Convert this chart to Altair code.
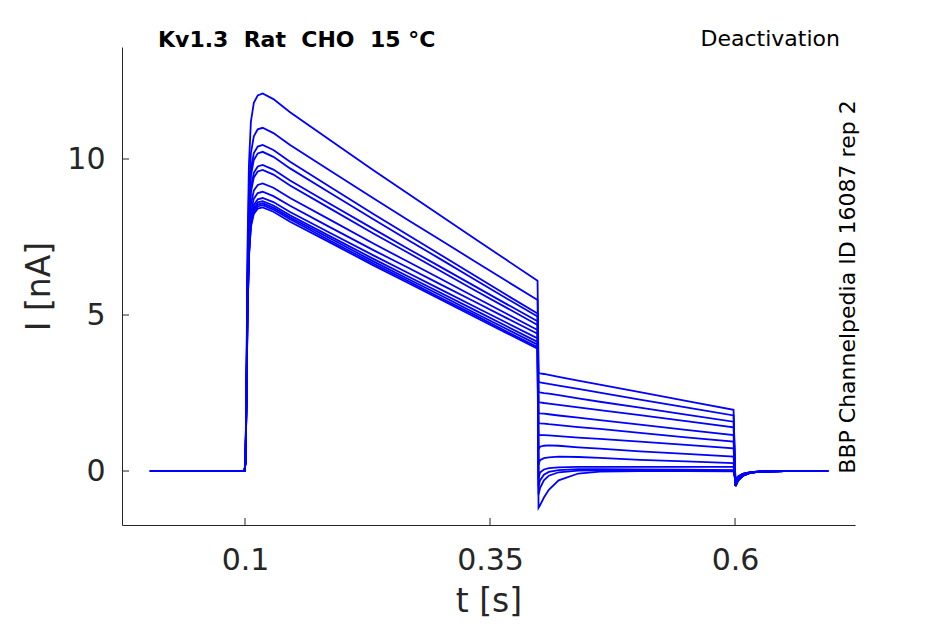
import altair as alt
import pandas as pd

# time grids (s)
t_pre = [0.003, 0.05]
t_act = [0.0995, 0.1005, 0.1015, 0.1025, 0.104, 0.106, 0.109, 0.113, 0.118,
         0.129, 0.146, 0.187, 0.231, 0.265, 0.299, 0.333, 0.367, 0.3985]
t_tail = [0.3995, 0.401, 0.405, 0.41, 0.42, 0.44, 0.462, 0.503, 0.55, 0.5985]
t_post = [0.6005, 0.603, 0.608, 0.615, 0.625, 0.65, 0.695]

# currents (nA), one row per sweep
pre_vals = [[0.0, 0.0]] * 13
act_vals = [
    [0, 0.36, 3.03, 7.02, 9.80, 11.19, 11.80, 12.04, 12.10, 11.92, 11.50, 10.60, 9.64, 8.92, 8.20, 7.48, 6.76, 6.10],
    [0, 0.33, 2.75, 6.38, 8.91, 10.18, 10.73, 10.95, 11.00, 10.83, 10.45, 9.62, 8.74, 8.07, 7.41, 6.75, 6.09, 5.48],
    [0, 0.31, 2.61, 6.06, 8.46, 9.67, 10.19, 10.40, 10.45, 10.29, 9.91, 9.10, 8.24, 7.59, 6.94, 6.29, 5.64, 5.05],
    [0, 0.31, 2.56, 5.93, 8.29, 9.46, 9.97, 10.18, 10.23, 10.07, 9.70, 8.91, 8.07, 7.43, 6.80, 6.16, 5.53, 4.95],
    [0, 0.29, 2.45, 5.69, 7.95, 9.07, 9.56, 9.76, 9.81, 9.66, 9.31, 8.56, 7.76, 7.15, 6.55, 5.95, 5.35, 4.80],
    [0, 0.29, 2.41, 5.60, 7.82, 8.93, 9.41, 9.60, 9.65, 9.50, 9.15, 8.41, 7.61, 7.02, 6.42, 5.82, 5.23, 4.68],
    [0, 0.28, 2.31, 5.35, 7.47, 8.53, 8.99, 9.17, 9.22, 9.08, 8.75, 8.05, 7.29, 6.73, 6.17, 5.60, 5.04, 4.52],
    [0, 0.27, 2.24, 5.19, 7.25, 8.28, 8.73, 8.91, 8.95, 8.81, 8.50, 7.81, 7.08, 6.54, 5.99, 5.45, 4.90, 4.40],
    [0, 0.26, 2.19, 5.08, 7.09, 8.09, 8.53, 8.71, 8.75, 8.62, 8.30, 7.63, 6.91, 6.37, 5.83, 5.29, 4.75, 4.25],
    [0, 0.26, 2.16, 5.02, 7.01, 8.00, 8.43, 8.61, 8.65, 8.51, 8.20, 7.52, 6.80, 6.26, 5.72, 5.18, 4.64, 4.14],
    [0, 0.26, 2.15, 4.98, 6.95, 7.94, 8.37, 8.54, 8.58, 8.44, 8.13, 7.45, 6.72, 6.18, 5.64, 5.09, 4.55, 4.05],
    [0, 0.26, 2.13, 4.94, 6.90, 7.88, 8.31, 8.48, 8.52, 8.38, 8.07, 7.38, 6.65, 6.11, 5.56, 5.02, 4.47, 3.97],
    [0, 0.25, 2.11, 4.90, 6.84, 7.82, 8.24, 8.41, 8.45, 8.31, 7.99, 7.32, 6.59, 6.05, 5.51, 4.96, 4.42, 3.92],
]
tail_vals = [
    [3.15, 3.13, 3.11, 3.08, 3.02, 2.90, 2.77, 2.53, 2.25, 1.96],
    [2.86, 2.84, 2.82, 2.79, 2.74, 2.63, 2.51, 2.29, 2.04, 1.78],
    [2.53, 2.52, 2.50, 2.48, 2.43, 2.33, 2.22, 2.03, 1.81, 1.58],
    [2.21, 2.20, 2.18, 2.16, 2.12, 2.04, 1.95, 1.79, 1.60, 1.40],
    [1.86, 1.85, 1.84, 1.82, 1.78, 1.71, 1.63, 1.49, 1.32, 1.15],
    [1.54, 1.53, 1.52, 1.50, 1.47, 1.41, 1.35, 1.22, 1.08, 0.94],
    [1.15, 1.15, 1.15, 1.14, 1.12, 1.07, 1.03, 0.94, 0.84, 0.73],
    [0.70, 0.78, 0.81, 0.82, 0.81, 0.76, 0.72, 0.63, 0.55, 0.46],
    [0.20, 0.35, 0.41, 0.44, 0.46, 0.45, 0.42, 0.36, 0.31, 0.25],
    [-0.25, -0.05, 0.05, 0.09, 0.12, 0.13, 0.13, 0.13, 0.13, 0.13],
    [-0.50, -0.30, -0.12, -0.03, 0.03, 0.06, 0.06, 0.05, 0.04, 0.03],
    [-0.75, -0.55, -0.30, -0.15, -0.04, 0.01, 0.02, 0.02, 0.02, 0.01],
    [-1.18, -1.10, -0.85, -0.60, -0.30, -0.08, -0.02, 0.0, 0.0, -0.01],
]
post_vals = [[-0.48, -0.30, -0.15, -0.06, -0.02, 0.0, 0.0]] * 9 + \
            [[-0.30, -0.18, -0.09, -0.04, -0.01, 0.0, 0.0]] * 4

x_ticks = [0.1, 0.35, 0.6]
y_ticks = [0, 5, 10]

rows = []
for i in range(13):
    ts = t_pre + t_act + t_tail + t_post
    vs = pre_vals[i] + act_vals[i] + tail_vals[i] + post_vals[i]
    for k, (t, v) in enumerate(zip(ts, vs)):
        rows.append({"trace": i, "t": t, "I": v, "k": k})
df = pd.DataFrame(rows)

W, H = 733, 478
FONT = "DejaVu Sans"
INK = "#262626"

xscale = alt.Scale(domain=[-0.0255, 0.7224], nice=False, zero=False)
yscale = alt.Scale(domain=[-1.73, 13.59], nice=False, zero=False)

lines = alt.Chart(df).mark_line(color="#0000ff", strokeWidth=1.8, clip=True).encode(
    x=alt.X("t:Q", scale=xscale,
            axis=alt.Axis(values=x_ticks, format="~g", title="t [s]", ticks=False, tickSize=0,
                          grid=False, labelPadding=20, titlePadding=10)),
    y=alt.Y("I:Q", scale=yscale,
            axis=alt.Axis(values=y_ticks, format="d", title="I [nA]", ticks=False, tickSize=0,
                          grid=False, labelPadding=17, titlePadding=10)),
    detail="trace:N",
    order="k:Q",
)

xt = alt.Chart(pd.DataFrame({"t": x_ticks})).mark_rule(color=INK, strokeWidth=1).encode(
    x=alt.X("t:Q", scale=xscale), y=alt.value(H - 7), y2=alt.value(H))
yt = alt.Chart(pd.DataFrame({"I": y_ticks})).mark_rule(color=INK, strokeWidth=1).encode(
    y=alt.Y("I:Q", scale=yscale), x=alt.value(0), x2=alt.value(7))

title_txt = alt.Chart(pd.DataFrame({"s": ["Kv1.3\u00a0 Rat\u00a0 CHO\u00a0 15 °C"]})).mark_text(
    font=FONT, fontSize=22, fontWeight="bold", align="left", baseline="middle", color="black"
).encode(text="s:N", x=alt.value(36), y=alt.value(-7))

deact_txt = alt.Chart(pd.DataFrame({"s": ["Deactivation"]})).mark_text(
    font=FONT, fontSize=22, align="right", baseline="middle", color="black"
).encode(text="s:N", x=alt.value(718), y=alt.value(-8))

side_txt = alt.Chart(pd.DataFrame({"s": ["BBP Channelpedia ID 16087 rep 2"]})).mark_text(
    font=FONT, fontSize=22, align="center", baseline="middle", angle=270, color="black"
).encode(text="s:N", x=alt.value(726), y=alt.value(240))

chart = alt.layer(lines, xt, yt, title_txt, deact_txt, side_txt).properties(
    width=W, height=H,
    autosize=alt.AutoSizeParams(type="none"),
    padding={"left": 114, "top": 39, "right": 70, "bottom": 95},
).configure_view(stroke=None).configure_axis(
    labelFont=FONT, titleFont=FONT, labelFontSize=30, titleFontSize=33,
    labelColor=INK, titleColor=INK, domainColor=INK, domainWidth=1,
    titleFontWeight="normal",
)

chart.save("out.html", embed_options={"renderer": "svg", "actions": False})
